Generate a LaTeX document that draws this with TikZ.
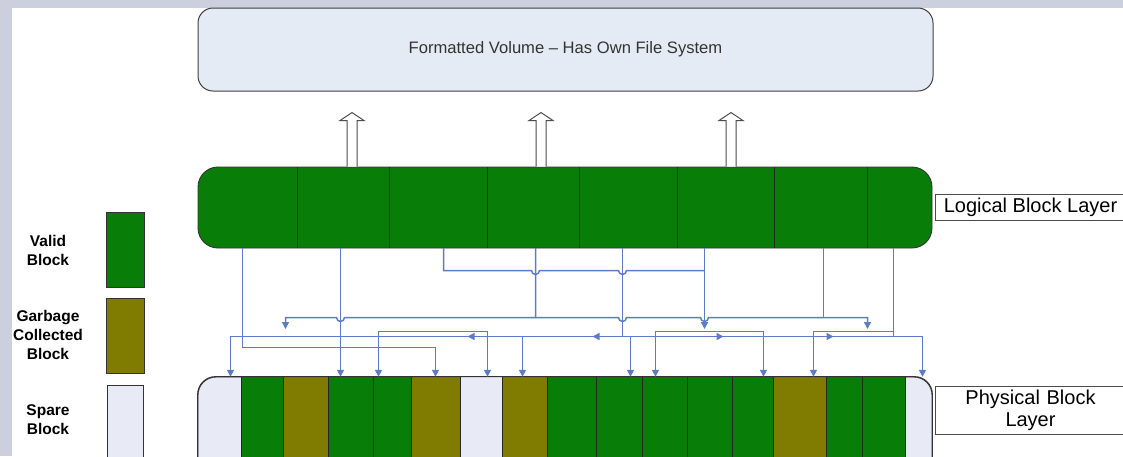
\documentclass[tikz,border=0pt]{standalone}
\usepackage{fontspec}
\setmainfont{Liberation Sans}
\usetikzlibrary{arrows.meta,positioning,calc,decorations.markings}
\definecolor{frame}{RGB}{203,207,222}
\definecolor{valid}{RGB}{8,126,8}
\definecolor{garb}{RGB}{128,124,2}
\definecolor{spare}{RGB}{232,234,246}
\definecolor{vol}{RGB}{229,235,244}
\definecolor{wire}{RGB}{92,124,200}
\tikzset{
  endtip/.style={-{Triangle[length=7pt,width=7pt]}},
  bothtip/.style={{Triangle[length=7pt,width=7pt]}-{Triangle[length=7pt,width=7pt]}},
  wire/.style={draw=wire, line width=1.5pt},
  hopup/.style={start angle=180, end angle=360, radius=4pt},
  hopback/.style={start angle=0, end angle=-180, radius=4pt},
  busmarks/.style={postaction={decorate}, decoration={markings,
    mark=at position 127pt with {\arrowreversed{Triangle[length=7pt,width=7pt]}},
    mark=at position 252pt with {\arrowreversed{Triangle[length=7pt,width=7pt]}},
    mark=at position 383pt with {\arrow{Triangle[length=7pt,width=7pt]}},
    mark=at position 493pt with {\arrow{Triangle[length=7pt,width=7pt]}}}},
  volbox/.style={draw=black!75, fill=vol, rounded corners=15pt, line width=1pt, minimum width=735pt, minimum height=83pt, text=black!80, font=\fontsize{16.6}{19}\selectfont},
  layer/.style={draw=black!80, fill=#1, rounded corners=20pt, minimum width=734pt, line width=0.9pt},
  slot/.style={minimum width=#1, inner sep=0pt},
  tagbox/.style={draw=black!70, line width=1pt, inner sep=4pt, font=\fontsize{20}{22}\selectfont, minimum width=190pt, anchor=west},
  key/.style={draw=black!80, fill=#1, minimum width=38pt, minimum height=75pt, inner sep=0pt},
  keytxt/.style={align=center, font=\bfseries\fontsize{15.5}{19}\selectfont},
  hollow/.style={draw=black!70, fill=white, line width=1pt},
}
\begin{document}
\begin{tikzpicture}[x=1pt,y=-1pt]
  \useasboundingbox (0,0) rectangle (1123,456);
  \clip (0,0) rectangle (1123,456);
  \fill[frame] (0,0) rectangle (1123,456);
  \fill[white] (12,8) rectangle (1123,456);

  \node[volbox] (vol) at (565.5,49.5) {Formatted Volume -- Has Own File System};

  \node[layer=valid, minimum height=81pt] (lay) at (565,207.5) {};
  \foreach \a/\b [count=\i] in {198/297,297/389,389/487,487/579,579/677,677/774,774/867,867/932}
    \node[slot={(\b-\a)*1pt}, minimum height=81pt] (l\i) at ({(\a+\b)/2},207.5) {};
  \foreach \i in {1,...,7} \draw[black!85, line width=0.8pt] (l\i.north east) -- (l\i.south east);
  \foreach \x in {-213,-24,166}
    \draw[hollow] ($(lay.north)+(\x-5,0)$) -- ++(0,-46) -- ++(-7,0) -- ++(12,-8) -- ++(12,8) -- ++(-7,0) -- ++(0,46);

  \node[layer=spare, rounded corners=18pt, minimum height=100pt] (phy) at (565,427) {};
  \foreach \a/\b/\c [count=\i] in {198/241/none,241/283/valid,283/328/garb,328/373/valid,373/411/valid,411/460/garb,460/502/spare,502/547/garb,547/596/valid,596/642/valid,642/687/valid,687/732/valid,732/773/valid,773/826/garb,826/862/valid,862/905/valid,905/932/none}
    \node[slot={(\b-\a)*1pt}, minimum height=100pt, fill=\c] (p\i) at ({(\a+\b)/2},427) {};
  \foreach \i in {1,...,16} \draw[black!85, line width=0.8pt] (p\i.north east) -- (p\i.south east);
  \draw[black!80, line width=0.9pt, rounded corners=18pt] (phy.south west) rectangle (phy.north east);

  \node[tagbox] (lab1) at (935,207.5) {Logical Block Layer};
  \node[tagbox, align=center, text width=180pt, minimum height=45pt] (lab2) at (935,410.5) {Physical Block\\Layer};

  \node[key=valid] (kv) at (125,250) {};
  \node[key=garb] (kg) at (125,335.5) {};
  \node[key=spare, minimum width=36pt, minimum height=80pt] (ks) at (125,425) {};
  \node[keytxt] (tv) at (48,250) {Valid\\Block};
  \node[keytxt] (tg) at (48,335) {Garbage\\Collected\\Block};
  \node[keytxt] (ts) at (48,420) {Spare\\Block};

  \coordinate (ya) at (0,270.5);
  \coordinate (yb) at (0,317.5);
  \coordinate (yc) at (0,331.5);
  \coordinate (yd) at (0,336.5);
  \coordinate (ye) at (0,347.5);
  \coordinate (m1) at (285.5,329);
  \coordinate (m2) at (867.5,329);
  \foreach \i/\d in {1/-5,2/-2.5,3/5.5,4/2.5,5/-5.5,6/-21,7/3,8/-6}
    \coordinate (t\i) at ([xshift=\d pt]l\i.south);
  \foreach \i/\d in {1/11,4/-10,5/-13.5,6/0,7/6.5,8/-2,10/11.5,11/-9,13/11,14/14,17/4}
    \coordinate (d\i) at ([xshift=\d pt]p\i.north);

  \draw[wire, endtip] (t1) |- (d6 |- ye) -- (d6);
  \draw[wire, endtip] (t2) -- (d4);
  \draw[wire] (t3) |- ([xshift=-4pt]t4 |- ya) arc[hopup] -- ([xshift=-4pt]t5 |- ya) arc[hopup] -- (t6 |- ya);
  \draw[wire, endtip] (t4) |- ([xshift=4pt]t2 |- yb) arc[hopback] -- (m1 |- yb) -- (m1);
  \draw[wire, endtip] (t4 |- yb) -- ([xshift=-4pt]t5 |- yb) arc[hopup] -- ([xshift=-4pt]t6 |- yb) arc[hopup] -| (m2);
  \draw[wire] (t7) -- (t7 |- yb);
  \draw[wire, endtip] (t6) -- (t6 |- m1);
  \draw[wire] (t5) -- (t5 |- yd);
  \draw[wire] (t8) -- (t8 |- yd);
  \draw[wire, endtip] (t2 |- yd) -| (d1);
  \draw[wire, endtip, busmarks] (t2 |- yd) -| (d17);
  \draw[wire, endtip] (d8 |- yd) -- (d8);
  \draw[wire, endtip] (d10 |- yd) -- (d10);
  \draw[wire, bothtip] (d5) |- (d7 |- yc) -- (d7);
  \draw[wire, bothtip] (d11) |- (d13 |- yc) -- (d13);
  \draw[wire, endtip] (t8 |- yc) -| (d14);
\end{tikzpicture}
\end{document}
